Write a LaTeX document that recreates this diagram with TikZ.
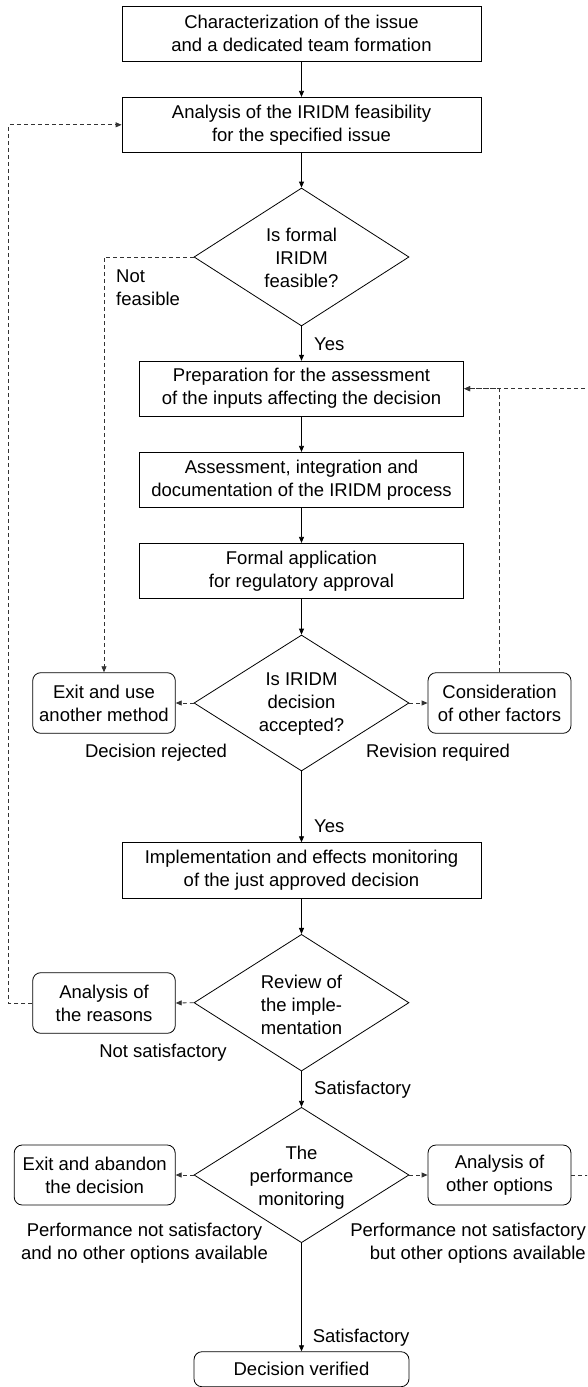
\documentclass[tikz,border=0pt]{standalone}
\usepackage{fontspec}
\setmainfont{Liberation Sans}
\usetikzlibrary{shapes.geometric,arrows.meta}
\begin{document}
\begin{tikzpicture}[x=1pt,y=-1pt,
  every node/.style={font=\fontsize{18.5}{23}\selectfont},
  sqbox/.style={draw, line width=0.8pt, rectangle, align=center, inner sep=0pt, minimum height=55pt},
  rbox/.style={draw, line width=0.8pt, rectangle, rounded corners=8pt, align=center, inner sep=0pt, minimum height=60.6pt},
  dec/.style={draw, line width=0.8pt, diamond, inner sep=0pt, minimum width=215pt},
  lbl/.style={inner sep=0pt, align=center},
  arr/.style={-{Triangle[length=6pt,width=5pt]}, line width=0.8pt},
  darr/.style={arr, dash pattern=on 4pt off 3pt, draw=black!80},
  dline/.style={line width=0.8pt, dash pattern=on 4pt off 3pt, draw=black!80}]
\useasboundingbox (0,0) rectangle (587,1387);
\clip (0,0) rectangle (587,1387);
% main column
\node[sqbox, minimum width=359pt] (b1) at (301.5,33.5) {Characterization of the issue\\and a dedicated team formation};
\node[sqbox, minimum width=359pt] (b2) at (301.5,124.8) {Analysis of the IRIDM feasibility\\for the specified issue};
\node[dec, minimum height=138pt] (d1) at (301.5,257) {};
\node[lbl] (d1t) at (301.5,258) {Is formal\\IRIDM\\feasible?};
\node[sqbox, minimum width=324.5pt] (b3) at (301.5,388.7) {Preparation for the assessment\\of the inputs affecting the decision};
\node[sqbox, minimum width=324.5pt] (b4) at (301.5,479.8) {Assessment, integration and\\documentation of the IRIDM process};
\node[sqbox, minimum width=324.5pt] (b5) at (301.5,570.8) {Formal application\\for regulatory approval};
\node[dec, minimum height=136pt] (d2) at (301.5,703) {};
\node[lbl] (d2t) at (301.5,704) {Is IRIDM\\decision\\accepted?};
\node[rbox, minimum width=142.6pt] (exit1) at (104,703) {Exit and use\\another method};
\node[rbox, minimum width=143pt] (cons) at (499.5,703) {Consideration\\of other factors};
\node[sqbox, minimum width=359pt, minimum height=55.6pt] (b6) at (301.5,870.5) {Implementation and effects monitoring\\of the just approved decision};
\node[dec, minimum height=136.7pt] (d3) at (301.5,1002.7) {};
\node[lbl] (d3t) at (301.5,1004.5) {Review of\\the imple-\\mentation};
\node[rbox, minimum width=142.6pt] (reasons) at (104,1003) {Analysis of\\the reasons};
\node[dec, minimum height=135.4pt] (d4) at (301.5,1175) {};
\node[lbl] (d4t) at (301.5,1177.5) {The\\performance\\monitoring};
\node[rbox, minimum width=161pt, minimum height=60pt] (exit2) at (94.7,1175) {Exit and abandon\\the decision};
\node[rbox, minimum width=143pt, minimum height=60pt] (other) at (499.5,1175) {Analysis of\\other options};
\node[rbox, minimum width=215pt, minimum height=35pt] (dv) at (301.5,1369.2) {Decision verified};
% labels
\node[lbl, anchor=west, align=left] (lnf) at (116,288) {Not\\feasible};
\node[lbl, anchor=west] (ly1) at (314,344) {Yes};
\node[lbl] (ldr) at (156,752.7) {Decision rejected};
\node[lbl] (lrr) at (438,752.7) {Revision required};
\node[lbl, anchor=west] (ly2) at (314,826) {Yes};
\node[lbl] (lns) at (163,1052.7) {Not satisfactory};
\node[lbl, anchor=west] (ls1) at (314,1090) {Satisfactory};
\node[lbl] (lp1) at (144.5,1243) {Performance not satisfactory\\and no other options available};
\node[lbl, anchor=east, align=right] (lp2) at (586,1243) {Performance not satisfactory\\but other options available};
\node[lbl, anchor=west] (ls2) at (312.6,1338) {Satisfactory};
% solid connectors
\draw[arr] (b1) -- (b2);
\draw[arr] (b2) -- (d1.north);
\draw[arr] (d1.south) -- (b3);
\draw[arr] (b3) -- (b4);
\draw[arr] (b4) -- (b5);
\draw[arr] (b5) -- (d2.north);
\draw[arr] (d2.south) -- (b6);
\draw[arr] (b6) -- (d3.north);
\draw[arr] (d3.south) -- (d4.north);
\draw[arr] (d4.south) -- (dv);
% dashed connectors
\draw[darr] (d1.west) -| (exit1.north);
\draw[darr] (d2.west) -- (exit1.east);
\draw[darr] (d2.east) -- (cons.west);
\draw[darr] (cons.north) |- (b3.east);
\draw[darr] (d3.west) -- (reasons.east);
\draw[darr] (reasons.west) -- ++(-23.6,0) |- (b2.west);
\draw[darr] (d4.west) -- (exit2.east);
\draw[darr] (d4.east) -- (other.west);
\draw[darr] (other.east) -- ++(30,0) |- (b3.east);
\end{tikzpicture}
\end{document}
